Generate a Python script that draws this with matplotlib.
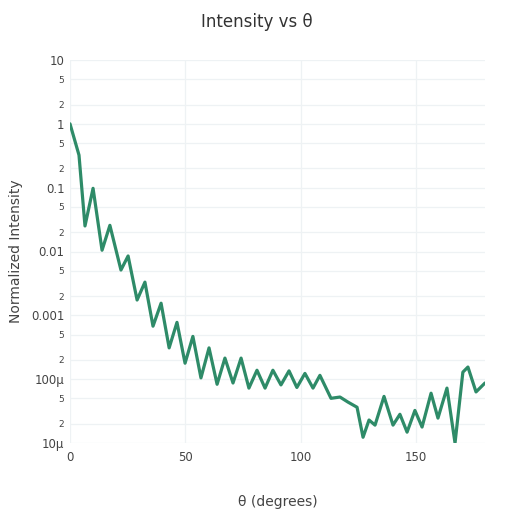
import numpy as np
import matplotlib.pyplot as plt

# data (theta in degrees, log10 of normalized intensity)
theta = [0, 3.9, 6.5, 10.0, 13.9, 17.3, 22.1, 25.2, 29.1, 32.5, 36.0, 39.5, 43.0, 46.4,
         49.9, 53.3, 56.8, 60.3, 63.8, 67.2, 70.7, 74.2, 77.6, 81.1, 84.6, 88.0, 91.5,
         95.0, 98.4, 101.9, 105.4, 108.4, 113.2, 117.1, 120.6, 124.5, 127.1, 129.7,
         132.3, 136.2, 140.1, 143.1, 146.2, 149.6, 152.7, 156.6, 159.6, 163.5, 167.0,
         170.4, 172.6, 176.1, 180]
log_int = [0.0, -0.49, -1.60, -1.01, -1.98, -1.59, -2.29, -2.07, -2.76, -2.48, -3.17,
           -2.81, -3.51, -3.11, -3.75, -3.33, -3.98, -3.51, -4.08, -3.67, -4.06, -3.67,
           -4.14, -3.86, -4.14, -3.86, -4.09, -3.87, -4.13, -3.91, -4.14, -3.94, -4.30,
           -4.28, -4.36, -4.44, -4.91, -4.64, -4.72, -4.27, -4.72, -4.55, -4.83, -4.49,
           -4.75, -4.22, -4.61, -4.14, -5.0, -3.89, -3.81, -4.20, -4.06]
intensity = 10.0 ** np.array(log_int)

major_vals = [10, 1, 0.1, 0.01, 0.001, 1e-4, 1e-5]
major_labels = ["10", "1", "0.1", "0.01", "0.001", "100μ", "10μ"]

fig = plt.figure(figsize=(5.14, 5.14), dpi=100)
ax = fig.add_axes([70 / 514, 1 - 443 / 514, 415 / 514, 383 / 514])

ax.plot(theta, intensity, color="#2e8b68", lw=2.3, solid_joinstyle="round",
        solid_capstyle="round")
ax.set_yscale("log")
ax.set_xlim(0, 180)
ax.set_ylim(1e-5, 10)

# y ticks: majors plus 2 and 5 minors, all as labels
ticks, labels, small = [], [], []
for v, lab in zip(major_vals, major_labels):
    ticks.append(v); labels.append(lab); small.append(False)
    if v > 1e-5:
        for m in (5, 2):
            ticks.append(v / 10 * m); labels.append(str(m)); small.append(True)
ax.yaxis.set_minor_locator(plt.NullLocator())
ax.set_yticks(ticks)
ax.set_yticklabels(labels)
for t, s in zip(ax.get_yticklabels(), small):
    t.set_fontsize(6.5 if s else 8.5)
    t.set_color("#444444")
ax.set_xticks([0, 50, 100, 150])
ax.tick_params(axis="x", labelsize=8.5, colors="#444444", length=0, pad=6)
ax.tick_params(axis="y", length=0, pad=4)

ax.grid(True, color="#eef2f4", lw=0.9)
ax.set_axisbelow(True)
for s in ax.spines.values():
    s.set_visible(False)

ax.set_xlabel("θ (degrees)", fontsize=10, color="#444444", labelpad=22)
ax.set_ylabel("Normalized Intensity", fontsize=10, color="#444444", labelpad=6)
fig.text(0.5, 1 - 22 / 514, "Intensity vs θ", ha="center", va="center",
         fontsize=12, color="#333333")

fig.savefig("out.png", dpi=100)
